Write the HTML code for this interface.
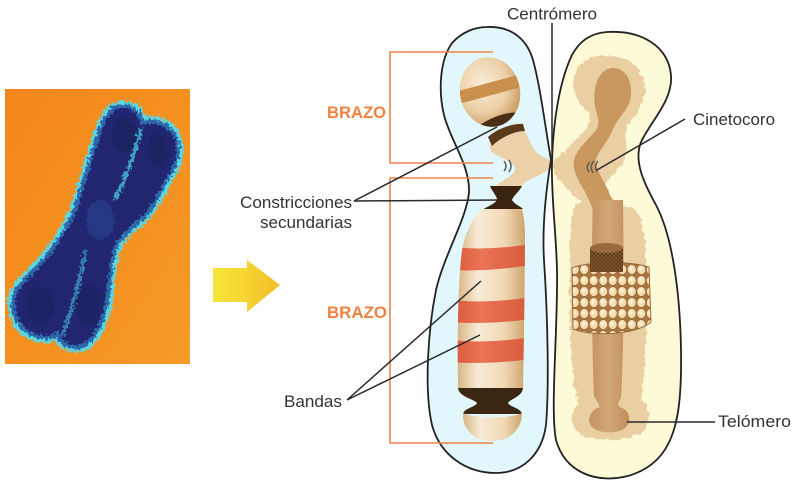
<!DOCTYPE html>
<html><head><meta charset="utf-8"><style>
html,body{margin:0;padding:0;background:#fff;}
svg{display:block;}
</style></head><body>
<svg width="800" height="483" viewBox="0 0 800 483" xmlns="http://www.w3.org/2000/svg">
<defs>
<linearGradient id="org" x1="0" y1="0" x2="1" y2="1">
<stop offset="0" stop-color="#f3861c"/><stop offset="0.5" stop-color="#f5901f"/><stop offset="1" stop-color="#f59a2a"/>
</linearGradient>
<linearGradient id="arrow" x1="0" y1="0" x2="1" y2="0">
<stop offset="0" stop-color="#f7e63a"/><stop offset="1" stop-color="#f4bf2a"/>
</linearGradient>
<filter id="fz" x="-10%" y="-10%" width="120%" height="120%">
<feTurbulence type="fractalNoise" baseFrequency="0.35" numOctaves="2" seed="4" result="n"/>
<feDisplacementMap in="SourceGraphic" in2="n" scale="8" xChannelSelector="R" yChannelSelector="G"/>
</filter>
<filter id="fz2" x="-10%" y="-10%" width="120%" height="120%">
<feTurbulence type="fractalNoise" baseFrequency="0.18" numOctaves="2" seed="7" result="n"/>
<feDisplacementMap in="SourceGraphic" in2="n" scale="6" xChannelSelector="R" yChannelSelector="G"/>
</filter>
<radialGradient id="lobe" cx="0.4" cy="0.35" r="0.7">
<stop offset="0" stop-color="#f9ecd6"/><stop offset="0.6" stop-color="#ecd0a6"/><stop offset="1" stop-color="#c8945c"/>
</radialGradient>
<linearGradient id="arm" x1="0" y1="0" x2="1" y2="0">
<stop offset="0" stop-color="#d9b586"/><stop offset="0.3" stop-color="#f8ebd6"/><stop offset="0.7" stop-color="#f0d8b4"/><stop offset="1" stop-color="#cfa46e"/>
</linearGradient>
<linearGradient id="red" x1="0" y1="0" x2="1" y2="0">
<stop offset="0" stop-color="#d55638"/><stop offset="0.4" stop-color="#eb7456"/><stop offset="1" stop-color="#d65a3c"/>
</linearGradient>
<linearGradient id="core" x1="0" y1="0" x2="1" y2="0">
<stop offset="0" stop-color="#c39260"/><stop offset="0.5" stop-color="#d3a876"/><stop offset="1" stop-color="#c08e5a"/>
</linearGradient>
<pattern id="beads" x="0" y="0" width="9.5" height="11" patternUnits="userSpaceOnUse">
<rect width="9.5" height="11" fill="#a87540"/>
<ellipse cx="4.75" cy="5.5" rx="4.4" ry="5" fill="#f3dcae" stroke="#9a6a38" stroke-width="0.7"/>
<ellipse cx="4" cy="4.5" rx="2" ry="2.2" fill="#fbefd4"/>
</pattern>
<pattern id="hatch" x="0" y="0" width="4" height="4" patternUnits="userSpaceOnUse">
<rect width="4" height="4" fill="#8a5a30"/>
<path d="M0,4 L4,0 M0,0 L4,4" stroke="#4e3016" stroke-width="0.7"/>
</pattern>
<clipPath id="lobeclip"><ellipse cx="490" cy="92" rx="30" ry="35" transform="rotate(-12 490 92)"/></clipPath>
<clipPath id="armclip"><path d="M482,209 C476,214 467,228 463,245 C459,265 457,320 458,388 L523,388 C524,340 525,260 525,235 C525,222 523,214 522,209 Z"/></clipPath>
</defs>

<!-- Photo -->
<rect x="5" y="89" width="185" height="275" fill="url(#org)"/>
<g filter="url(#fz)">
<path d="M110,112 C115,104 131,104 138,113 L143,123 C150,119 166,123 173,132 C181,143 179,161 171,173 C164,184 158,198 150,210 C142,222 125,230 117,245 C110,262 110,285 107,302 C104,320 97,336 85,345 C75,350 62,346 57,334 C50,340 35,338 25,330 C15,322 10,305 15,293 C22,280 35,270 45,258 C58,243 68,225 75,210 C80,195 85,175 92,155 C97,138 102,120 110,112 Z" fill="#2c6ab0" stroke="#5ad8e2" stroke-width="11"/>
<path d="M110,112 C115,104 131,104 138,113 L143,123 C150,119 166,123 173,132 C181,143 179,161 171,173 C164,184 158,198 150,210 C142,222 125,230 117,245 C110,262 110,285 107,302 C104,320 97,336 85,345 C75,350 62,346 57,334 C50,340 35,338 25,330 C15,322 10,305 15,293 C22,280 35,270 45,258 C58,243 68,225 75,210 C80,195 85,175 92,155 C97,138 102,120 110,112 Z" fill="#222670" stroke="#2d68ac" stroke-width="4"/>
<path d="M141,128 C136,150 128,175 114,200" stroke="#45c0d8" stroke-width="4" fill="none" opacity="0.8"/>
<path d="M86,250 C80,280 72,310 62,336" stroke="#3fa8d0" stroke-width="4" fill="none" opacity="0.7"/>
<ellipse cx="124" cy="135" rx="12" ry="18" fill="#1a1c58" opacity="0.6"/>
<ellipse cx="158" cy="150" rx="10" ry="16" fill="#1a1c58" opacity="0.6"/>
<ellipse cx="40" cy="305" rx="14" ry="18" fill="#1a1c58" opacity="0.5"/>
<ellipse cx="88" cy="305" rx="12" ry="20" fill="#1a1c58" opacity="0.5"/>
<ellipse cx="100" cy="220" rx="14" ry="20" fill="#2a4a98" opacity="0.5"/>
</g>

<!-- Arrow -->
<path d="M213,268 L247,268 L247,260 L280,285 L247,312 L247,302 L213,302 Z" fill="url(#arrow)"/>

<!-- Chromatid outlines fills -->
<path d="M487,27 C508,26 526,36 533,60 C540,85 545,125 551,160 C546,190 542,225 544,260 C548,320 549,390 546,425 C542,455 522,473 496,473 C466,473 440,455 432,425 C424,390 428,330 436,290 C444,255 467,218 469,192 C470,165 450,140 444,115 C438,90 440,60 452,43 C462,32 475,27 487,27 Z" fill="#e1f7fc"/>
<path d="M607,32 C640,30 668,45 671,75 C673,100 652,120 642,140 C632,160 645,185 656,205 C672,235 680,290 681,350 C682,420 675,462 628,476 C595,484 565,472 556,440 C550,410 558,330 557,270 C556,230 551,195 552,163 C553,120 560,80 572,55 C580,40 592,33 607,32 Z" fill="#fdfad7"/>

<!-- Right chromatid interior -->
<g filter="url(#fz2)">
<path d="M607,56 C627,54 644,68 645,88 C646,106 632,116 627,126 C622,136 630,146 624,161 C617,176 602,178 607,190 C610,200 602,207 590,206 C577,201 569,191 559,179 C554,172 552,165 555,159 C564,153 569,146 578,138 C588,128 594,120 587,110 C575,100 569,80 578,67 C586,58 596,56 607,56 Z" fill="#eacfa3"/>
<path d="M576,204 C590,199 612,203 632,208 C644,214 646,240 646,280 C647,330 646,370 641,400 C652,405 651,426 641,433 C626,442 595,442 579,433 C568,425 571,410 579,404 C571,380 569,330 570,280 C570,250 569,214 576,204 Z" fill="#eacfa3"/>
</g>
<path d="M612,68 C626,68 632,80 631,95 C630,108 620,116 615,125 C612,132 608,140 602,148 C596,156 594,162 597,168 C600,176 606,184 610,195 C614,203 620,205 623,212 L593,212 C592,205 588,198 584,190 C578,180 572,170 574,160 C576,150 588,140 596,130 C600,124 598,118 596,110 C592,98 594,70 612,68 Z" fill="#c9985e"/>
<path d="M593,200 L623,200 C624,260 624,350 621,398 C618,404 616,405 622,408 C631,411 632,425 622,430 C612,434 598,433 592,427 C586,420 590,410 600,407 C598,403 596,400 594,396 C592,350 591,260 593,200 Z" fill="url(#core)"/>
<path d="M572,268 C590,261 630,261 649,267 L651,322 C636,335 595,337 573,329 Z" fill="url(#beads)" stroke="#9a6a38" stroke-width="1"/>
<rect x="590" y="248" width="33" height="24" fill="url(#hatch)"/>
<ellipse cx="606.5" cy="248" rx="16.5" ry="5" fill="#9a6a3c"/>
<path d="M590,162 Q585,166 589,172 M594,161 Q589,166 593,173 M598,161 Q594,166 597,172" stroke="#555" stroke-width="1.3" fill="none"/>

<!-- Left chromatid interior -->
<ellipse cx="490" cy="92" rx="30" ry="35" transform="rotate(-12 490 92)" fill="url(#lobe)"/>
<g clip-path="url(#lobeclip)">
<path d="M455,92 L525,73 L525,86 L455,105 Z" fill="#c98f4c"/>
<ellipse cx="499" cy="123" rx="24" ry="7" transform="rotate(-20 499 123)" fill="#4a2e14"/>
</g>
<path d="M491,140 C500,134 514,129 524,130 C530,138 531,150 541,156 C547,159 552,161 558,163 C552,168 545,172 537,176 C528,180 522,183 521,188 L493,189 C497,182 512,178 515,170 C516,162 500,158 492,152 C489,148 489,144 491,140 Z" fill="#ecd1a8"/>
<path d="M488,137 C495,130 512,123 523,124 L525,131 C514,131 500,138 492,146 Z" fill="#5b3a1c"/>
<path d="M504,161 Q508,166 504,171 M509,160 Q513,166 509,172" stroke="#555" stroke-width="1.4" fill="none"/>
<path d="M490,186 L522,186 C519,192 513,196 512,200 C514,204 520,206 523,209 L482,210 C488,206 497,203 497,199 C496,195 492,191 490,186 Z" fill="#3a2410"/>
<path d="M482,209 C476,214 467,228 463,245 C459,265 457,320 458,388 L523,388 C524,340 525,260 525,235 C525,222 523,214 522,209 Z" fill="url(#arm)"/>
<g clip-path="url(#armclip)" fill="url(#red)">
<path d="M450,247 Q490,251 530,244 L530,265 Q490,272 450,270 Z"/>
<path d="M450,300 Q490,304 530,297 L530,319 Q490,325 450,322 Z"/>
<path d="M450,340 Q490,344 530,337 L530,359 Q490,365 450,362 Z"/>
</g>
<path d="M458,388 L523,388 C522,397 510,399 508,403 C510,407 521,408 522,414 L463,414 C464,408 476,407 477,403 C474,399 459,397 458,388 Z" fill="#3a2612"/>
<path d="M463,413 C462,430 475,441 492,441 C509,441 522,430 522,413 C510,419 475,419 463,413 Z" fill="url(#arm)"/>

<!-- Outline strokes -->
<path d="M487,27 C508,26 526,36 533,60 C540,85 545,125 551,160 C546,190 542,225 544,260 C548,320 549,390 546,425 C542,455 522,473 496,473 C466,473 440,455 432,425 C424,390 428,330 436,290 C444,255 467,218 469,192 C470,165 450,140 444,115 C438,90 440,60 452,43 C462,32 475,27 487,27 Z" fill="none" stroke="#222" stroke-width="1.8"/>
<path d="M607,32 C640,30 668,45 671,75 C673,100 652,120 642,140 C632,160 645,185 656,205 C672,235 680,290 681,350 C682,420 675,462 628,476 C595,484 565,472 556,440 C550,410 558,330 557,270 C556,230 551,195 552,163 C553,120 560,80 572,55 C580,40 592,33 607,32 Z" fill="none" stroke="#222" stroke-width="1.8"/>

<!-- Orange brackets -->
<g stroke="#f0834a" stroke-width="1.6" fill="none">
<path d="M493,52 L390,52 L390,163 L493,163"/>
<path d="M493,178 L390,178 L390,443 L493,443"/>
</g>

<!-- Leader lines -->
<g stroke="#2a2a2a" stroke-width="1.5" fill="none">
<line x1="552" y1="23" x2="552" y2="160"/>
<line x1="685" y1="119" x2="597" y2="170"/>
<line x1="627" y1="422" x2="715" y2="422"/>
<line x1="354" y1="201" x2="497" y2="127"/>
<line x1="354" y1="201" x2="500" y2="200"/>
<line x1="347" y1="400" x2="481" y2="281"/>
<line x1="347" y1="400" x2="480" y2="335"/>
</g>

<!-- Labels -->
<g font-family="'Liberation Sans', Arial, sans-serif" font-size="17" fill="#333">
<text x="507" y="19.5" textLength="90" lengthAdjust="spacingAndGlyphs">Centrómero</text>
<text x="693" y="125" textLength="82" lengthAdjust="spacingAndGlyphs">Cinetocoro</text>
<text x="718" y="427" textLength="73" lengthAdjust="spacingAndGlyphs">Telómero</text>
<text x="240" y="208" textLength="112" lengthAdjust="spacingAndGlyphs">Constricciones</text>
<text x="260" y="228" textLength="92" lengthAdjust="spacingAndGlyphs">secundarias</text>
<text x="284" y="407" textLength="58" lengthAdjust="spacingAndGlyphs">Bandas</text>
</g>
<g font-family="'Liberation Sans', Arial, sans-serif" font-size="16.5" font-weight="bold" fill="#f0823e">
<text x="327" y="118" textLength="59" lengthAdjust="spacingAndGlyphs">BRAZO</text>
<text x="327" y="318" textLength="60" lengthAdjust="spacingAndGlyphs">BRAZO</text>
</g>
</svg>
</body></html>
